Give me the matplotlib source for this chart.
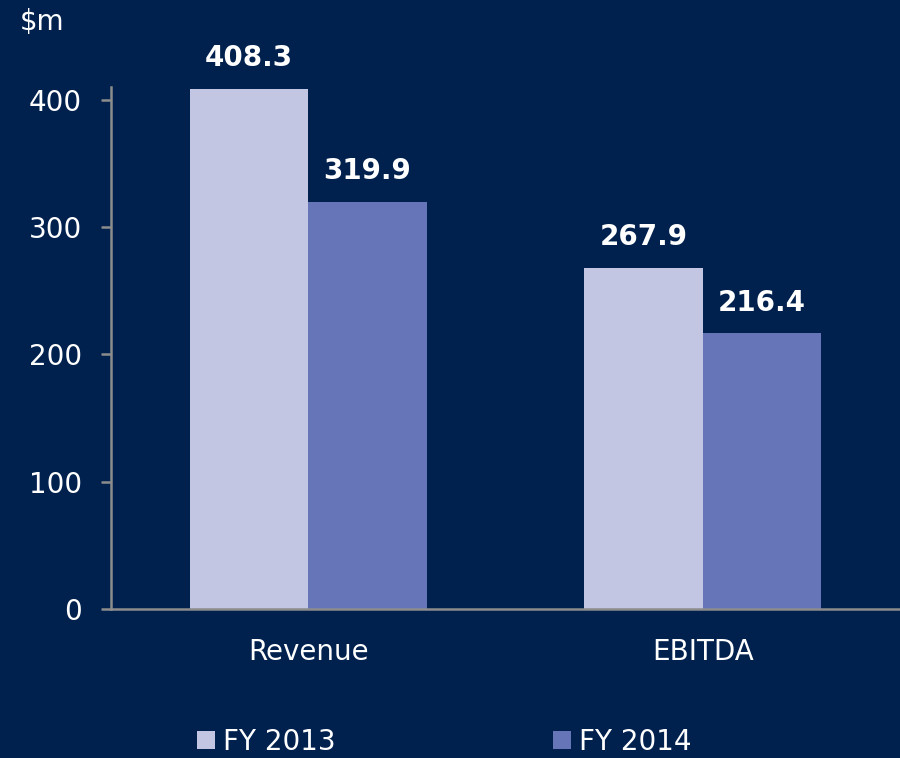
import matplotlib.pyplot as plt
import numpy as np

categories = ['Revenue', 'EBITDA']
fy2013 = [408.3, 267.9]
fy2014 = [319.9, 216.4]
series_names = ['FY 2013', 'FY 2014']
yticks = [0, 100, 200, 300, 400]

bg = '#00204e'
c13 = '#c3c6e3'
c14 = '#6674b8'
axis_grey = '#8c8c8c'

plt.rcParams['font.family'] = ['DejaVu Sans']

fig = plt.figure(figsize=(9, 7.58), dpi=100, facecolor=bg)
ax = fig.add_axes([0.1233, 0.1966, 0.8767, 0.6887], facecolor=bg)

x = np.arange(len(categories))
w = 0.3
b1 = ax.bar(x - w / 2, fy2013, w, color=c13, label=series_names[0], zorder=2)
b2 = ax.bar(x + w / 2, fy2014, w, color=c14, label=series_names[1], zorder=2)

# value labels above bars
for bars in (b1, b2):
    for rect in bars:
        h = rect.get_height()
        ax.annotate(f'{h:.1f}', (rect.get_x() + rect.get_width() / 2, h),
                    xytext=(0, 12), textcoords='offset points',
                    ha='center', va='bottom', color='white',
                    fontsize=20, fontweight='bold')

ax.set_xlim(-0.5, 1.5)
ax.set_ylim(0, 410)
ax.set_yticks(yticks)
ax.set_xticks(x)
ax.set_xticklabels(categories)

for side in ('top', 'right'):
    ax.spines[side].set_visible(False)
for side in ('left', 'bottom'):
    ax.spines[side].set_color(axis_grey)
    ax.spines[side].set_linewidth(1.8)

ax.tick_params(axis='y', colors=axis_grey, length=7, width=1.8, labelsize=20,
               labelcolor='white', pad=14)
ax.tick_params(axis='x', length=0, labelsize=20, labelcolor='white', pad=21)

fig.text(0.022, 0.99, '$m', color='white', fontsize=20, va='top', ha='left')

fig.legend(handles=[b1, b2], loc='lower left', bbox_to_anchor=(0.219, 0.003),
           ncol=2, frameon=False, fontsize=20, labelcolor='white',
           handlelength=0.65, handleheight=0.65, handletextpad=0.3,
           columnspacing=7.8, borderpad=0, borderaxespad=0)

fig.savefig('out.png', dpi=100, facecolor=bg)
